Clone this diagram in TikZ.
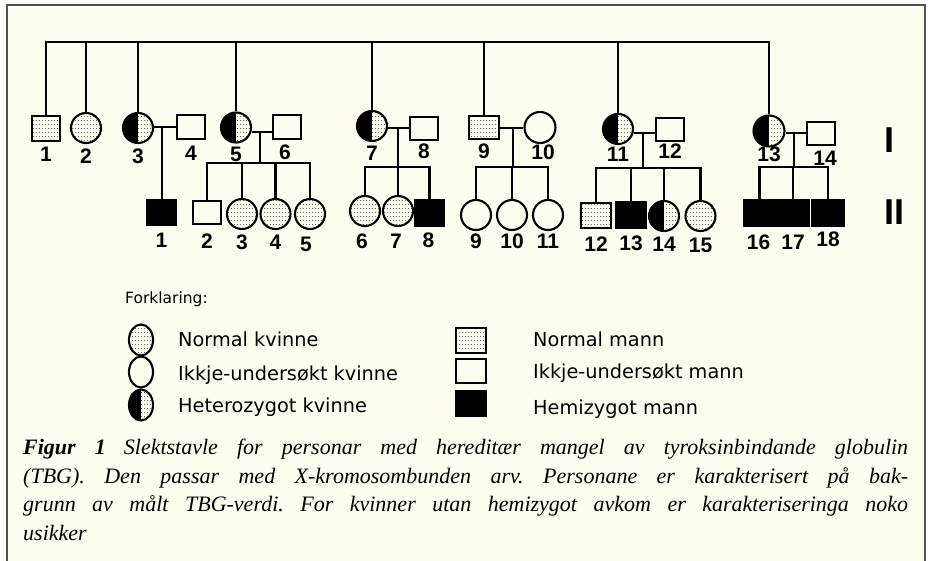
\documentclass[tikz,border=0pt]{standalone}
\usepackage{fontspec}
\setmainfont{Liberation Serif}
\newfontfamily\labfont{Liberation Sans}
\newfontfamily\legfont{DejaVu Sans}
\usetikzlibrary{patterns,shapes.geometric}
\definecolor{bg}{HTML}{FFFDF0}
\definecolor{framecol}{HTML}{505050}
\definecolor{stip}{HTML}{6A6A6A}
\pgfdeclarepatternformonly{stipple}{\pgfqpoint{-1pt}{-1pt}}{\pgfqpoint{3pt}{4pt}}{\pgfqpoint{3pt}{4pt}}{\pgfpathrectangle{\pgfqpoint{0pt}{0pt}}{\pgfqpoint{1pt}{1pt}}\pgfusepath{fill}}
\tikzset{
  sym/.style={draw=black, line width=2.1pt, inner sep=0pt},
  fem/.style={sym, circle, minimum size=30pt},
  mal/.style={sym, rectangle, minimum width=28.5pt, minimum height=25pt},
  kid/.style={minimum width=29.5pt, minimum height=25.5pt},
  plain/.style={fill=bg},
  norm/.style={preaction={fill=bg}, pattern=stipple, pattern color=stip},
  aff/.style={fill=black},
  het/.style={preaction={fill=bg}, pattern=stipple, pattern color=stip,
    path picture={\fill[black] (path picture bounding box.south west) rectangle (path picture bounding box.north);}},
  lab/.style={font=\labfont\bfseries\fontsize{21}{21}\selectfont, inner sep=0pt},
  conn/.style={draw=black, line width=2.1pt},
  leg/.style={font=\legfont\fontsize{19.3}{22}\selectfont, inner sep=0pt, anchor=base west},
  roman/.style={font=\labfont\bfseries\fontsize{36}{36}\selectfont, inner sep=0pt},
}
\begin{document}
\begin{tikzpicture}[x=1pt,y=-1pt]
\useasboundingbox (0,0) rectangle (930,561);
\fill[white] (0,0) rectangle (930,561);
\fill[bg] (7,5) rectangle (925,561);
\draw[framecol, line width=1.5pt] (7,561) -- (7,5) -- (925,5) -- (925,561);

% Generation I
\node[mal,norm,label={[lab,label distance=5pt]below:1}] (i1) at (46,128.5) {};
\node[fem,norm,label={[lab,label distance=5pt]below:2}] (i2) at (86,128) {};
\node[fem,het,label={[lab,label distance=5pt]below:3}] (i3) at (138,128) {};
\node[mal,plain,minimum height=24pt,label={[lab,label distance=6pt]below:4}] (i4) at (191,127) {};
\node[fem,het,label={[lab,label distance=3pt]below:5}] (i5) at (236,127.5) {};
\node[mal,plain,minimum height=24pt,label={[lab,label distance=5pt,xshift=-2pt]below:6}] (i6) at (287,127) {};
\node[fem,het,label={[lab,label distance=4pt]below:7}] (i7) at (372,126) {};
\node[mal,plain,minimum height=23pt,label={[lab,label distance=3pt]below:8}] (i8) at (424,128.5) {};
\node[mal,norm,minimum width=30pt,minimum height=23pt,label={[lab,label distance=4pt]below:9}] (i9) at (484,127.5) {};
\node[fem,plain,minimum size=31pt,label={[lab,label distance=1pt,xshift=3pt]below:10}] (i10) at (540,127.5) {};
\node[fem,het,label={[lab,label distance=2pt]below:11}] (i11) at (618,129) {};
\node[mal,plain,minimum height=23pt,label={[lab,label distance=2pt]below:12}] (i12) at (670,129.5) {};
\node[fem,het,minimum size=31pt,label={[lab,label distance=-1pt]below:13}] (i13) at (769,131) {};
\node[mal,plain,minimum height=23pt,label={[lab,label distance=5pt,xshift=4pt]below:14}] (i14) at (821,133.5) {};

% Generation II
\node[mal,aff,kid,label={[lab,label distance=7pt]below:1}] (ii1) at (161.5,212.5) {};
\node[mal,plain,minimum height=23.5pt,label={[lab,label distance=8pt]below:2}] (ii2) at (207,212.5) {};
\node[fem,norm,label={[lab,label distance=5pt]below:3}] (ii3) at (242,214) {};
\node[fem,norm,label={[lab,label distance=5pt]below:4}] (ii4) at (275.5,214) {};
\node[fem,norm,label={[lab,label distance=7pt,xshift=-4pt]below:5}] (ii5) at (310,214) {};
\node[fem,norm,label={[lab,label distance=7pt,xshift=-3pt]below:6}] (ii6) at (365,211) {};
\node[fem,norm,label={[lab,label distance=7pt,xshift=-2pt]below:7}] (ii7) at (398,211) {};
\node[mal,aff,kid,label={[lab,label distance=6pt,xshift=-1pt]below:8}] (ii8) at (429.5,213) {};
\node[fem,plain,label={[lab,label distance=3pt]below:9}] (ii9) at (476,215) {};
\node[fem,plain,label={[lab,label distance=3pt]below:10}] (ii10) at (512,215) {};
\node[fem,plain,label={[lab,label distance=3pt]below:11}] (ii11) at (548,215) {};
\node[mal,norm,kid,label={[lab,label distance=7pt]below:12}] (ii12) at (596,215.5) {};
\node[mal,aff,kid,label={[lab,label distance=7pt]below:13}] (ii13) at (631,215) {};
\node[fem,het,label={[lab,label distance=5pt]below:14}] (ii14) at (664,216) {};
\node[fem,norm,label={[lab,label distance=6pt]below:15}] (ii15) at (700.5,216) {};
\node[mal,aff,minimum width=31pt,minimum height=26pt,label={[lab,label distance=8pt,xshift=-1pt]below:16}] (ii16) at (759.5,213) {};
\node[mal,aff,minimum width=31pt,minimum height=26pt,label={[lab,label distance=8pt]below:17}] (ii17) at (793,213) {};
\node[mal,aff,minimum width=31pt,minimum height=26pt,label={[lab,label distance=5pt]below:18}] (ii18) at (828,213) {};

% Generation numerals
\node[roman] (gI) at (889,140) {I};
\node[roman] (gII) at (894,212.5) {II};

% top sibship line
\coordinate (top) at (0,42);
\draw[conn] (i1.north) |- (top -| i13.north) -- (i13.north);
\foreach \n in {i2,i3,i5,i7,i9,i11} \draw[conn] (\n.north) -- (\n.north |- top);

% family 3 x 4
\coordinate (m34) at (162,127);
\draw[conn] (i3.east |- m34) -- (i4.west |- m34);
\draw[conn] (m34) -- (m34 |- ii1.north);

% family 5 x 6
\coordinate (m56) at (260,132);
\coordinate (s56) at (260,163);
\draw[conn] (i5.east |- m56) -- (i6.west |- m56);
\draw[conn] (m56) -- (s56);
\draw[conn] (ii2.north) |- (s56 -| ii5.north) -- (ii5.north);
\foreach \n in {ii3,ii4} \draw[conn] (\n.north) -- (\n.north |- s56);

% family 7 x 8
\coordinate (m78) at (398,128);
\coordinate (s78) at (398,167);
\draw[conn] (i7.east |- m78) -- (i8.west |- m78);
\draw[conn] (m78) -- (s78);
\draw[conn] (ii6.north) |- (s78 -| ii8.north) -- (ii8.north);
\draw[conn] (ii7.north) -- (ii7.north |- s78);

% family 9 x 10
\coordinate (m910) at (513,128);
\coordinate (s910) at (513,167);
\draw[conn] (i9.east |- m910) -- (i10.west |- m910);
\draw[conn] (m910) -- (s910);
\draw[conn] (ii9.north) |- (s910 -| ii11.north) -- (ii11.north);
\draw[conn] (ii10.north) -- (ii10.north |- s910);

% family 11 x 12
\coordinate (m1112) at (643,133);
\coordinate (s1112) at (643,168);
\draw[conn] (i11.east |- m1112) -- (i12.west |- m1112);
\draw[conn] (m1112) -- (s1112);
\draw[conn] (ii12.north) |- (s1112 -| ii15.north) -- (ii15.north);
\foreach \n in {ii13,ii14} \draw[conn] (\n.north) -- (\n.north |- s1112);

% family 13 x 14
\coordinate (m1314) at (794,133);
\coordinate (s1314) at (794,167);
\draw[conn] (i13.east |- m1314) -- (i14.west |- m1314);
\draw[conn] (m1314) -- (s1314);
\draw[conn] (ii16.north) |- (s1314 -| ii18.north) -- (ii18.north);
\draw[conn] (ii17.north) -- (ii17.north |- s1314);

% Legend
\node[leg, font=\legfont\fontsize{15.5}{18}\selectfont] (fork) at (125,304) {Forklaring:};
\node[sym,ellipse,norm,minimum width=24pt,minimum height=31pt] (lk1) at (141,340) {};
\node[sym,ellipse,plain,minimum width=24pt,minimum height=31pt] (lk2) at (141,372) {};
\node[sym,ellipse,het,minimum width=24pt,minimum height=31pt] (lk3) at (141,405) {};
\node[leg] (tk1) at (178,347) {Normal kvinne};
\node[leg] (tk2) at (178,381) {Ikkje-undersøkt kvinne};
\node[leg] (tk3) at (178,413) {Heterozygot kvinne};
\node[mal,norm,minimum width=30pt,minimum height=25pt] (lm1) at (471,340.5) {};
\node[mal,plain,minimum width=30pt,minimum height=24pt] (lm2) at (471,371) {};
\node[mal,aff,minimum width=30pt,minimum height=25pt] (lm3) at (471,403.5) {};
\node[leg] (tm1) at (533,347) {Normal mann};
\node[leg] (tm2) at (533,379) {Ikkje-undersøkt mann};
\node[leg] (tm3) at (533,415) {Hemizygot mann};

% Caption
\node[anchor=north west, inner sep=0pt, text width=885pt, align=justify,
      font=\fontsize{22}{28.5}\selectfont\itshape] (cap) at (23,439)
  {\frenchspacing\hyphenpenalty=10000\textbf{Figur 1}\hspace{18pt}Slektstavle for personar med hereditær mangel av tyroksinbindande globulin\linebreak
   (TBG). Den passar med X-kromosombunden arv. Personane er karakterisert på bak-\linebreak
   grunn av målt TBG-verdi. For kvinner utan hemizygot avkom er karakteriseringa noko\linebreak
   usikker};
\end{tikzpicture}
\end{document}
